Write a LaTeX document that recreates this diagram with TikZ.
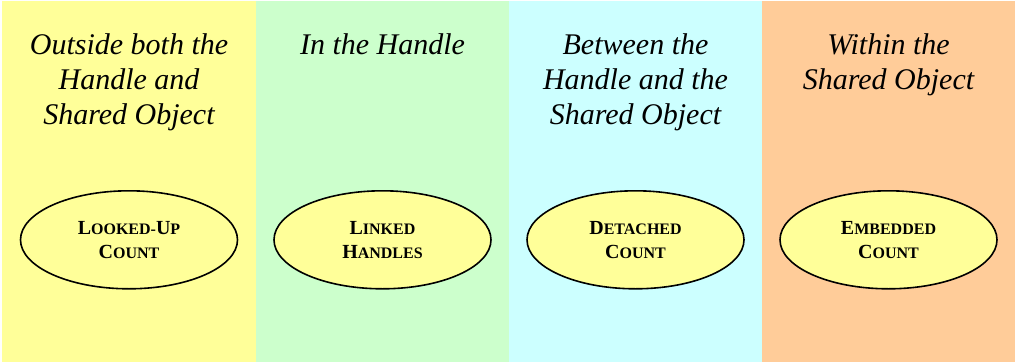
\documentclass[tikz,border=0pt]{standalone}
\usepackage{fontspec}
\setmainfont{Liberation Serif}
\usetikzlibrary{positioning, shapes.geometric}

\definecolor{paleyellow}{HTML}{FFFF99}
\definecolor{palegreen}{HTML}{CCFFCC}
\definecolor{palecyan}{HTML}{CCFFFF}
\definecolor{paleorange}{HTML}{FFCC99}

% larger first letter for the small-caps labels
\newcommand{\scbig}[1]{{\fontsize{20}{24}\selectfont #1}}

\begin{document}
\begin{tikzpicture}[x=1pt, y=1pt, node distance=0pt,
    column/.style={rectangle, inner sep=0pt, outer sep=0pt, minimum width=253pt, minimum height=361pt},
    place/.style={font=\fontsize{30}{35}\selectfont\itshape, align=center, inner sep=0pt},
    count/.style={ellipse, draw, line width=1.6pt, fill=paleyellow, minimum width=217pt, minimum height=98pt,
      inner sep=0pt, align=center, font=\fontsize{16}{24}\selectfont\bfseries}]
    \useasboundingbox (0,0) rectangle (1015,-362);

    % four placements, left to right
    \node[column, fill=paleyellow, minimum width=254pt, anchor=north west] (outside) at (2,-1) {};
    \node[column, fill=palegreen] (handle) [right=of outside] {};
    \node[column, fill=palecyan] (between) [right=of handle] {};
    \node[column, fill=paleorange] (within) [right=of between] {};

    \node[place] (outsideT) [below=32pt of outside.north] {Outside both the\\Handle and\\Shared Object};
    \node[place] (handleT) [below=32pt of handle.north] {In the Handle};
    \node[place] (betweenT) [below=32pt of between.north] {Between the\\Handle and the\\Shared Object};
    \node[place] (withinT) [below=32pt of within.north] {Within the\\Shared Object};

    \node[count] (lookedup) [below=189pt of outside.north] {\scbig{L}OOKED-\scbig{U}P\\\scbig{C}OUNT};
    \node[count] (linked) [below=189pt of handle.north] {\scbig{L}INKED\\\scbig{H}ANDLES};
    \node[count] (detached) [below=189pt of between.north] {\scbig{D}ETACHED\\\scbig{C}OUNT};
    \node[count] (embedded) [below=189pt of within.north] {\scbig{E}MBEDDED\\\scbig{C}OUNT};
\end{tikzpicture}
\end{document}
